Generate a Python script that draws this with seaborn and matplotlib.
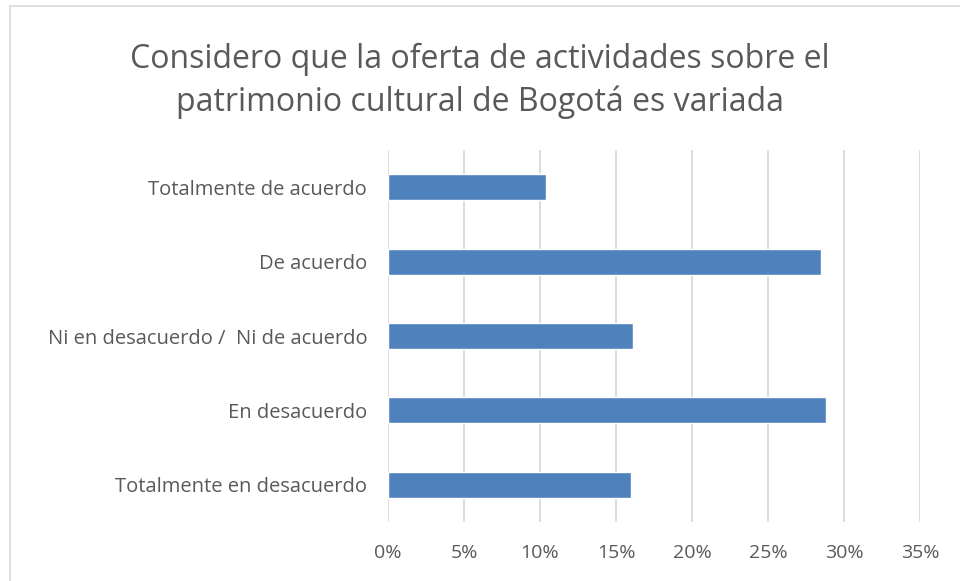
import seaborn as sns
import matplotlib.pyplot as plt
import pandas as pd
from matplotlib.ticker import PercentFormatter
from matplotlib.lines import Line2D

title = "Considero que la oferta de actividades sobre el\npatrimonio cultural de Bogotá es variada"
categories = [
    "Totalmente de acuerdo",
    "De acuerdo",
    "Ni en desacuerdo /  Ni de acuerdo",
    "En desacuerdo",
    "Totalmente en desacuerdo",
]
values = [0.104, 0.285, 0.161, 0.288, 0.160]
ticks = [0, 0.05, 0.10, 0.15, 0.20, 0.25, 0.30, 0.35]

df = pd.DataFrame({"Respuesta": categories, "Porcentaje": values})

sns.set_style("white")
plt.rcParams["font.family"] = ["Open Sans", "DejaVu Sans"]

fig = plt.figure(figsize=(9.6, 5.81), dpi=100)
ax = fig.add_axes([388 / 960, 1 - 522 / 581, (920 - 388) / 960, (522 - 150) / 581])

sns.barplot(data=df, x="Porcentaje", y="Respuesta", color="#4f81bd",
            saturation=1, width=0.35, ax=ax, zorder=3)

ax.set_xlim(0, 0.35)
ax.set_xticks(ticks)
ax.xaxis.set_major_formatter(PercentFormatter(1.0, decimals=0))
ax.grid(axis="x", color="#d9d9d9", linewidth=1.3, zorder=0)
ax.set_xlabel("")
ax.set_ylabel("")
for s in ax.spines.values():
    s.set_visible(False)
ax.tick_params(axis="both", length=0, colors="#595959", labelsize=14)
ax.tick_params(axis="y", labelsize=14.5, pad=15)
ax.tick_params(axis="x", pad=16)

fig.text(0.5, 1 - 81 / 581, title, ha="center", va="center",
         fontsize=23, color="#595959", linespacing=1.35)

# chart border (left and top)
fig.add_artist(Line2D([10 / 960, 10 / 960], [0, 1 - 6 / 581], transform=fig.transFigure,
                      color="#d9d9d9", linewidth=1.2))
fig.add_artist(Line2D([10 / 960, 1], [1 - 6 / 581, 1 - 6 / 581], transform=fig.transFigure,
                      color="#d9d9d9", linewidth=1.2))

fig.savefig("out.png", dpi=100)
